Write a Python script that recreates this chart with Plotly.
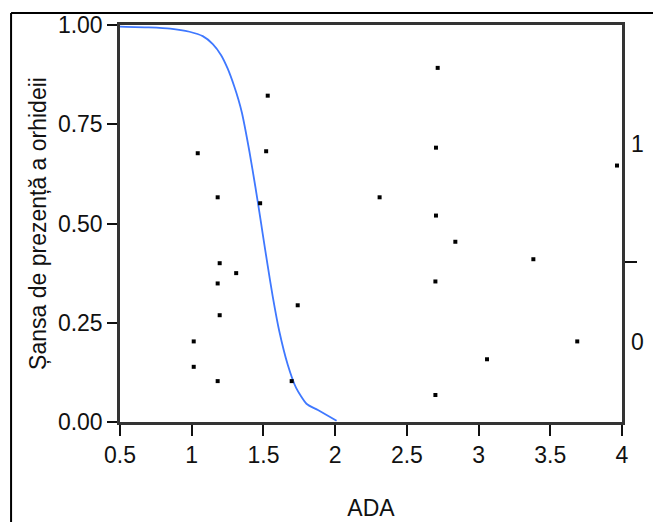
import plotly.graph_objects as go

# ---- data ----
ada_x = [1.530, 1.042, 1.519, 1.181, 1.477,
         2.715, 2.703, 2.310, 2.703, 3.965,
         1.195, 1.310, 1.181, 1.195, 1.014, 1.014, 1.181,
         1.739, 1.697, 2.838, 2.699, 2.699,
         3.382, 3.059, 3.688]
pts_y = [0.822, 0.677, 0.682, 0.566, 0.551,
         0.892, 0.691, 0.566, 0.520, 0.646,
         0.400, 0.375, 0.349, 0.269, 0.203, 0.139, 0.103,
         0.294, 0.103, 0.454, 0.354, 0.068,
         0.410, 0.158, 0.203]

curve_x = [0.50, 0.70, 0.85, 0.985, 1.077, 1.147, 1.205, 1.251, 1.298, 1.325,
           1.35, 1.402, 1.444, 1.472, 1.495, 1.530, 1.565, 1.611, 1.669, 1.728,
           1.80, 1.88, 2.01]
curve_p = [0.996, 0.994, 0.991, 0.983, 0.972, 0.952, 0.924, 0.890, 0.844, 0.813,
           0.779, 0.682, 0.592, 0.528, 0.474, 0.393, 0.316, 0.228, 0.145, 0.086,
           0.046, 0.030, 0.003]

left_ticks = [0, 0.25, 0.5, 0.75, 1.0]
x_ticks = [0.5, 1, 1.5, 2, 2.5, 3, 3.5, 4]
x_ticktext = ["0.5", "1", "1.5", "2", "2.5", "3", "3.5", "4"]
level_split = 0.403          # share of level 0 (right axis)
level_labels = ["0", "1"]

FONT = "Liberation Sans, Arial, sans-serif"
AX = "#333333"
FS = 23

fig = go.Figure()
fig.add_trace(go.Scatter(x=curve_x, y=curve_p, mode="lines",
                         line=dict(color="#3f78ff", width=1.8, shape="spline", smoothing=0.6),
                         hoverinfo="skip", showlegend=False))
fig.add_trace(go.Scatter(x=ada_x, y=pts_y, mode="markers",
                         marker=dict(symbol="square", size=4, color="black"),
                         showlegend=False))
fig.add_trace(go.Scatter(x=[None], y=[None], yaxis="y2", showlegend=False))

fig.update_layout(
    width=661, height=522,
    margin=dict(l=112, r=47, t=17, b=108),
    paper_bgcolor="white", plot_bgcolor="white",
    font=dict(family=FONT, size=FS, color="#111111"),
    xaxis=dict(range=[0.5, 4], tickvals=x_ticks, ticktext=x_ticktext, automargin=False,
               showgrid=False, zeroline=False, showline=True, linecolor=AX, linewidth=2.5,
               mirror=True, ticks="outside", ticklen=11, tickwidth=2, tickcolor="#111",
               title=dict(text="ADA", font=dict(size=FS), standoff=33)),
    yaxis=dict(range=[0, 1], tickvals=left_ticks, tickformat=".2f", automargin=False,
               showgrid=False, zeroline=False, showline=True, linecolor=AX, linewidth=2.5,
               ticks="outside", ticklen=10, tickwidth=2, tickcolor="#111",
               title=dict(text="Șansa de prezență a orhideii", font=dict(size=FS), standoff=5)),
    yaxis2=dict(range=[0, 1], overlaying="y", side="right", tickvals=[level_split],
                ticktext=[""], automargin=False, showgrid=False, zeroline=False, showline=True,
                linecolor=AX, linewidth=2.5, ticks="outside", ticklen=12, tickwidth=2,
                tickcolor="#111"),
)

for lab, yc in zip(level_labels, [level_split / 2, (1 + level_split) / 2]):
    fig.add_annotation(text=lab, xref="paper", yref="y2", x=1, y=yc, xanchor="left",
                       xshift=7, showarrow=False, font=dict(size=FS))

# outer window frame
fig.add_shape(type="line", xref="paper", yref="paper", x0=-0.217, x1=1.2, y0=1.030, y1=1.030,
              line=dict(color="black", width=2))
fig.add_shape(type="line", xref="paper", yref="paper", x0=-0.217, x1=-0.217, y0=1.030, y1=-0.4,
              line=dict(color="black", width=2))

fig.write_html("out.html")
